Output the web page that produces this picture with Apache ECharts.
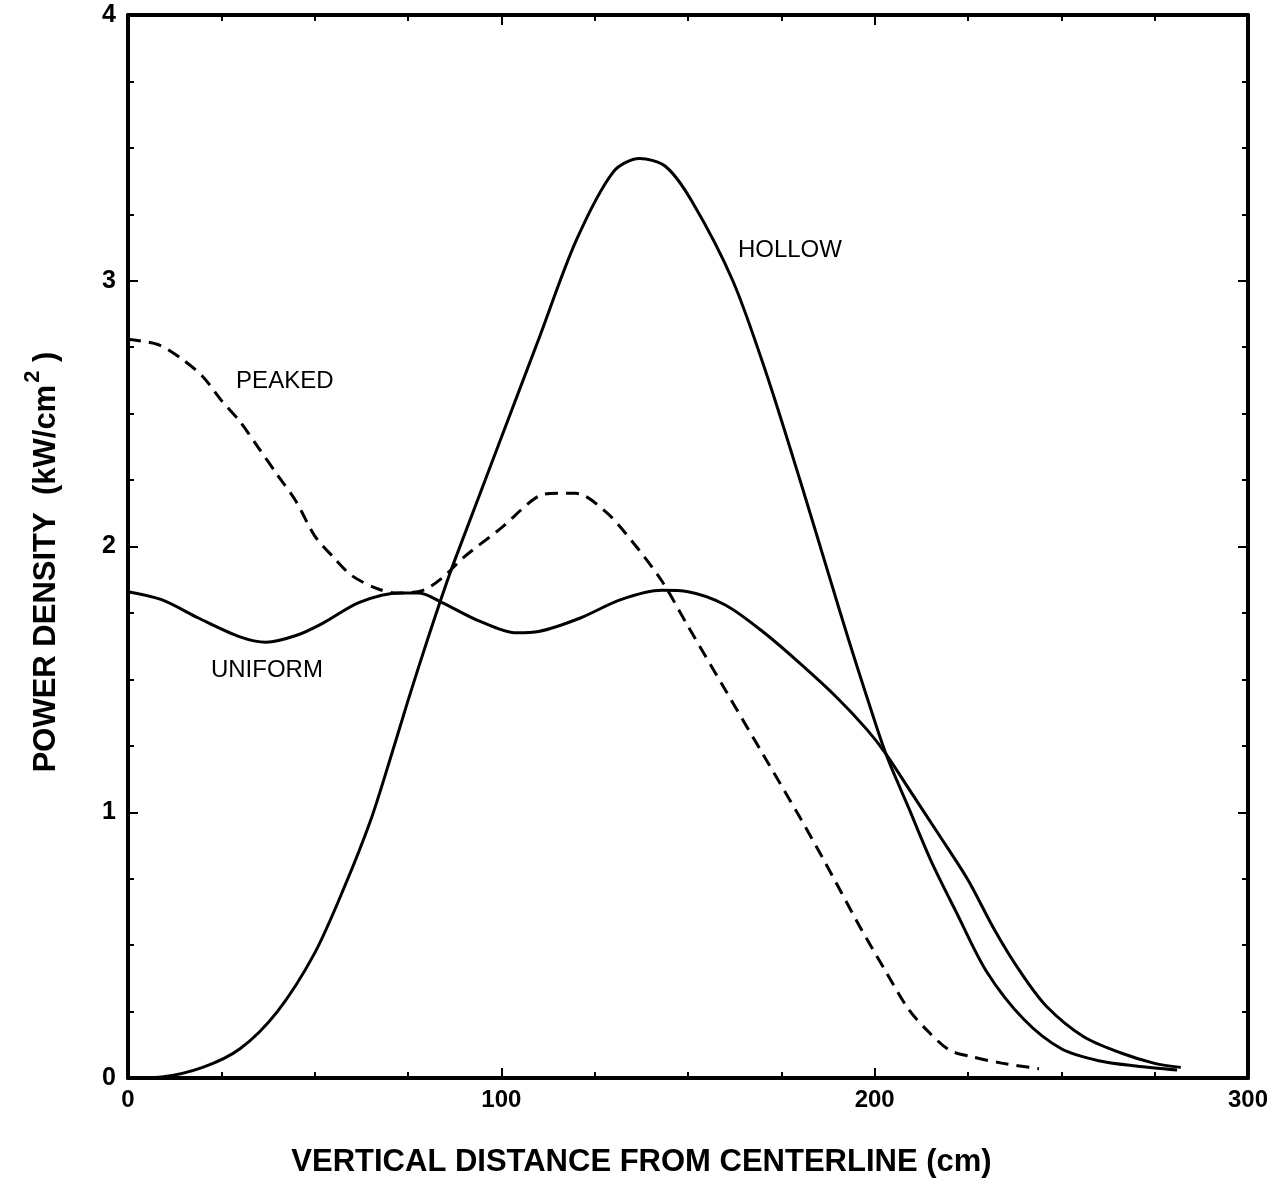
<!DOCTYPE html>
<html>
<head>
<meta charset="utf-8">
<script src="https://cdn.jsdelivr.net/npm/echarts@6/dist/echarts.min.js"></script>
<style>html,body{margin:0;padding:0;background:#fff}#c{width:1283px;height:1198px}</style>
</head>
<body>
<div id="c"></div>
<script>
// ---- data ----
const hollowX = [0, 9, 20, 30, 40, 50, 58, 65, 70, 75, 80, 86, 90, 100, 110, 120, 130, 137, 144, 151, 162, 171, 180, 188, 193, 198, 203, 209, 215, 222, 230, 240, 250, 260, 270, 281];
const hollowY = [0, 0.004, 0.04, 0.11, 0.25, 0.47, 0.72, 0.97, 1.19, 1.42, 1.64, 1.89, 2.04, 2.41, 2.78, 3.15, 3.41, 3.46, 3.43, 3.30, 3.00, 2.65, 2.25, 1.88, 1.65, 1.43, 1.22, 1.02, 0.82, 0.62, 0.40, 0.22, 0.11, 0.065, 0.045, 0.03];

const uniformX = [0, 9, 19, 30, 37, 45, 52, 62, 73, 78, 84, 94, 104, 110, 121, 132, 143, 150, 160, 170, 180, 190, 198, 203, 210, 217, 225, 232, 239, 246, 256, 266, 275, 282];
const uniformY = [1.83, 1.80, 1.73, 1.66, 1.64, 1.665, 1.71, 1.79, 1.825, 1.825, 1.79, 1.72, 1.675, 1.68, 1.73, 1.80, 1.835, 1.83, 1.78, 1.68, 1.56, 1.43, 1.31, 1.22, 1.07, 0.92, 0.745, 0.56, 0.40, 0.27, 0.155, 0.094, 0.055, 0.04];

const peakedX = [0, 8, 14, 20, 25, 30, 35, 40, 45, 50, 55, 60, 67, 72, 79, 84, 90, 100, 110, 115, 120, 128, 135, 143, 150, 160, 170, 180, 186, 191, 196, 203, 209, 214, 220, 226, 234, 244];
const peakedY = [2.78, 2.76, 2.71, 2.64, 2.55, 2.47, 2.37, 2.27, 2.17, 2.04, 1.96, 1.89, 1.84, 1.825, 1.835, 1.88, 1.96, 2.07, 2.19, 2.20, 2.20, 2.13, 2.02, 1.87, 1.70, 1.46, 1.22, 0.98, 0.83, 0.70, 0.57, 0.40, 0.26, 0.18, 0.105, 0.08, 0.056, 0.035];

const curveNames = ['HOLLOW', 'UNIFORM', 'PEAKED'];
const labelX = [177.3, 37.2, 42.0];
const labelY = [3.115, 1.535, 2.62];

const xTickLabels = ['0', '100', '200', '300'];
const yTickLabels = ['0', '1', '2', '3', '4'];
const xTitle = 'VERTICAL DISTANCE FROM CENTERLINE (cm)';
const yTitleMain = 'POWER DENSITY  (kW/cm';
const yTitleSup = '2';
const yTitleEnd = ' )';

// ---- build ----
const zip = (xs, ys) => xs.map((x, i) => [x, ys[i]]);
const FONT = '"Liberation Sans", Arial, Helvetica, sans-serif';
const axisLine = { show: true, onZero: false, lineStyle: { color: '#000', width: 4 } };
const tick = { show: true, inside: true, length: 10, lineStyle: { color: '#000', width: 2 } };
const minor = { show: true, splitNumber: 4, length: 6, lineStyle: { color: '#000', width: 2 } };

const chart = echarts.init(document.getElementById('c'), null, { renderer: 'canvas' });
const lineStyleBase = { color: '#000', width: 3 };
const common = { type: 'line', smooth: 0.3, showSymbol: false, symbol: 'none' };

chart.setOption({
  animation: false,
  backgroundColor: '#fff',
  grid: { left: 128, right: 35, top: 15, bottom: 120, containLabel: false },
  xAxis: [{
    type: 'value', min: 0, max: 300, interval: 100, position: 'bottom',
    axisLine, splitLine: { show: false }, axisTick: tick, minorTick: minor,
    axisLabel: { show: true, margin: 10, color: '#000', fontSize: 24, fontWeight: 'bold', fontFamily: FONT,
      formatter: v => xTickLabels[Math.round(v / 100)] },
  }, {
    type: 'value', min: 0, max: 300, interval: 100, position: 'top',
    axisLine, splitLine: { show: false }, axisTick: tick, minorTick: minor,
    axisLabel: { show: false },
  }],
  yAxis: [{
    type: 'value', min: 0, max: 4, interval: 1, position: 'left',
    axisLine, splitLine: { show: false }, axisTick: tick, minorTick: minor,
    axisLabel: { show: true, margin: 12, color: '#000', fontSize: 25, fontWeight: 'bold', fontFamily: FONT,
      formatter: v => yTickLabels[Math.round(v)] },
  }, {
    type: 'value', min: 0, max: 4, interval: 1, position: 'right',
    axisLine, splitLine: { show: false }, axisTick: tick, minorTick: minor,
    axisLabel: { show: false },
  }],
  series: [
    { ...common, name: curveNames[0], data: zip(hollowX, hollowY), lineStyle: { ...lineStyleBase } },
    { ...common, name: curveNames[1], data: zip(uniformX, uniformY), lineStyle: { ...lineStyleBase } },
    { ...common, name: curveNames[2], data: zip(peakedX, peakedY), lineStyle: { ...lineStyleBase, type: [13, 8] } },
    { type: 'scatter', symbolSize: 0, silent: true, itemStyle: { opacity: 1 },
      data: curveNames.map((n, i) => ({ value: [labelX[i], labelY[i]], name: n })),
      label: { show: true, position: 'inside', formatter: p => p.name, color: '#000', opacity: 1,
        fontSize: 24, fontFamily: FONT, letterSpacing: -1 } },
  ],
  graphic: [
    { type: 'text', left: 'center', top: 1147,
      style: { text: xTitle, fill: '#000', font: 'bold 31px ' + FONT } },
    { type: 'text', x: 42, y: 562, rotation: Math.PI / 2,
      style: {
        text: '{a|' + yTitleMain + '}{s|' + yTitleSup + '}{a|' + yTitleEnd + '}',
        align: 'center', verticalAlign: 'middle',
        rich: {
          a: { fill: '#000', font: 'bold 31px ' + FONT, lineHeight: 40, verticalAlign: 'bottom' },
          s: { fill: '#000', font: 'bold 22px ' + FONT, lineHeight: 40, verticalAlign: 'top', padding: [0, 0, 0, 2] },
        },
      } },
  ],
});
</script>
</body>
</html>
